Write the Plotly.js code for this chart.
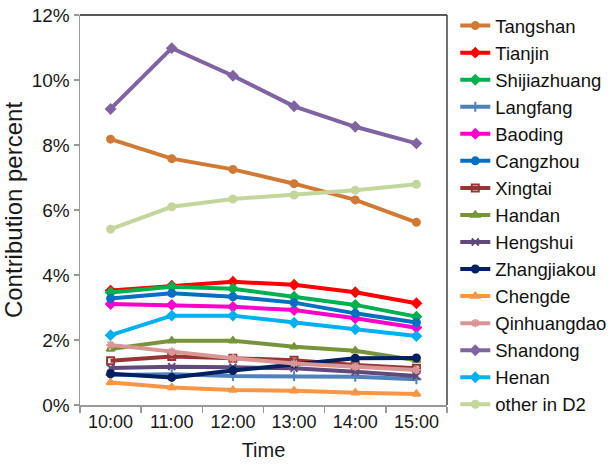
<!DOCTYPE html>
<html>
<head>
<meta charset="utf-8">
<script src="https://cdn.plot.ly/plotly-3.0.1.min.js"></script>
<style>
  html, body { margin: 0; padding: 0; background: #fff; }
  #chart { width: 614px; height: 470px; }
</style>
</head>
<body>
<div id="chart"></div>
<script>
// Hourly contribution (percent) of each source region
const times = ["10:00", "11:00", "12:00", "13:00", "14:00", "15:00"];

const tangshan     = [8.18, 7.58, 7.25, 6.81, 6.31, 5.62];
const tianjin      = [3.52, 3.67, 3.79, 3.70, 3.47, 3.13];
const shijiazhuang = [3.46, 3.64, 3.58, 3.33, 3.08, 2.72];
const langfang     = [0.92, 0.95, 0.89, 0.89, 0.87, 0.79];
const baoding      = [3.11, 3.08, 3.02, 2.92, 2.67, 2.38];
const cangzhou     = [3.28, 3.44, 3.33, 3.15, 2.82, 2.54];
const xingtai      = [1.36, 1.49, 1.44, 1.38, 1.23, 1.13];
const handan       = [1.72, 1.98, 1.98, 1.79, 1.67, 1.38];
const hengshui     = [1.14, 1.18, 1.16, 1.13, 1.02, 0.89];
const zhangjiakou  = [0.96, 0.85, 1.06, 1.26, 1.44, 1.45];
const chengde      = [0.69, 0.54, 0.46, 0.44, 0.38, 0.34];
const qinhuangdao  = [1.85, 1.64, 1.44, 1.28, 1.18, 1.08];
const shandong     = [9.11, 10.98, 10.13, 9.19, 8.56, 8.05];
const henan        = [2.15, 2.75, 2.75, 2.53, 2.33, 2.12];
const otherD2      = [5.41, 6.10, 6.34, 6.46, 6.61, 6.79];

const seriesNames = ["Tangshan", "Tianjin", "Shijiazhuang", "Langfang", "Baoding",
  "Cangzhou", "Xingtai", "Handan", "Hengshui", "Zhangjiakou", "Chengde",
  "Qinhuangdao", "Shandong", "Henan", "other in D2"];
const seriesValues = [tangshan, tianjin, shijiazhuang, langfang, baoding,
  cangzhou, xingtai, handan, hengshui, zhangjiakou, chengde,
  qinhuangdao, shandong, henan, otherD2];

const colors = ["#D07A35", "#FF0000", "#00B050", "#4F81BD", "#FF00CC",
  "#0070C0", "#963634", "#77933C", "#604A7B", "#002060", "#F79646",
  "#D99694", "#8064A2", "#00B0F0", "#C3D69B"];
const symbols = ["circle", "diamond", "diamond", "cross-thin", "diamond",
  "circle", "square-open", "triangle-up-open", "x-thin", "circle", "triangle-up",
  "asterisk", "diamond", "diamond", "circle"];

const traces = seriesNames.map((name, i) => ({
  type: "scatter",
  mode: "lines+markers",
  name: name,
  x: times,
  y: seriesValues[i],
  line: { color: colors[i], width: 4 },
  marker: {
    color: colors[i],
    symbol: symbols[i],
    size: 7,
    line: { color: colors[i], width: 2 }
  }
}));

const fontFamily = "Arial, 'Liberation Sans', sans-serif";

const layout = {
  width: 614,
  height: 470,
  margin: { l: 80, r: 167, t: 15, b: 65, autoexpand: false },
  paper_bgcolor: "#ffffff",
  plot_bgcolor: "#ffffff",
  font: { family: fontFamily, color: "#1a1a1a", size: 18 },
  showlegend: true,
  legend: {
    xref: "container", x: 0.7415, xanchor: "left",
    yref: "container", y: 0.985, yanchor: "top",
    maxheight: 470,
    font: { family: fontFamily, size: 18.5, color: "#111" },
    bgcolor: "rgba(0,0,0,0)",
    borderwidth: 0,
    itemwidth: 30
  },
  xaxis: {
    type: "category",
    range: [-0.5, 5.5],
    tickson: "boundaries",
    ticks: "outside",
    ticklen: 6,
    tickcolor: "#999",
    tickwidth: 1.5,
    showline: true,
    linecolor: "#999",
    linewidth: 1.5,
    showgrid: false,
    zeroline: false,
    tickfont: { family: fontFamily, size: 18, color: "#1a1a1a" },
    title: { text: "Time", font: { family: fontFamily, size: 20, color: "#1a1a1a" }, standoff: 12 }
  },
  yaxis: {
    range: [0, 12],
    dtick: 2,
    ticksuffix: "%",
    ticks: "outside",
    ticklen: 5,
    tickcolor: "#999",
    tickwidth: 1.5,
    showline: true,
    linecolor: "#999",
    linewidth: 1.5,
    showgrid: false,
    zeroline: false,
    tickfont: { family: fontFamily, size: 19, color: "#1a1a1a" },
    title: { text: "Contribution percent", font: { family: fontFamily, size: 24, color: "#1a1a1a" }, standoff: 2 }
  },
  shapes: [
    { type: "line", xref: "paper", yref: "paper", x0: 0, x1: 1, y0: 1, y1: 1,
      line: { color: "#222", width: 1.5 } },
    { type: "line", xref: "paper", yref: "paper", x0: 1, x1: 1, y0: 0, y1: 1,
      line: { color: "#444", width: 1.5 } }
  ],
  hovermode: false
};

Plotly.newPlot("chart", traces, layout, { displayModeBar: false, staticPlot: true });
</script>
</body>
</html>
